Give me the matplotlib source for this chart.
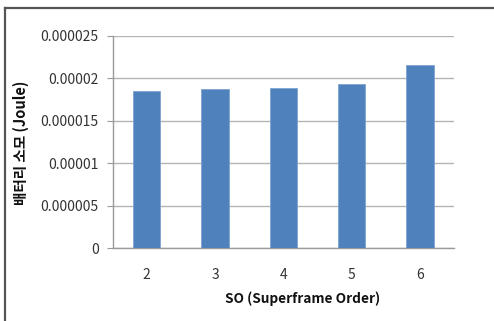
import matplotlib.pyplot as plt
import numpy as np
from matplotlib.lines import Line2D

plt.rcParams['font.family'] = ['Noto Sans CJK KR', 'DejaVu Sans']

so_order = ['2', '3', '4', '5', '6']
energy = [0.00001852, 0.00001872, 0.00001891, 0.00001931, 0.00002158]
y_ticks = [0, 0.000005, 0.00001, 0.000015, 0.00002, 0.000025]
y_tick_labels = ['0', '0.000005', '0.00001', '0.000015', '0.00002', '0.000025']

W, H = 494, 321
fig = plt.figure(figsize=(W / 100, H / 100), dpi=100)
ax = fig.add_axes([112.5 / W, 1 - 248.3 / H, (454 - 112.5) / W, (248.3 - 36) / H])

x = np.arange(len(so_order))
ax.bar(x, energy, width=0.4, color='#4F81BD', edgecolor='#7FA3D3', linewidth=0.6, zorder=3)

ax.set_xlim(-0.5, len(so_order) - 0.5)
ax.set_ylim(0, 0.000025)
ax.set_yticks(y_ticks)
ax.set_yticklabels(y_tick_labels)
ax.set_xticks(x)
ax.set_xticklabels(so_order)

ax.yaxis.grid(True, color='#b4b4b4', linewidth=1.0, zorder=0)
ax.set_axisbelow(True)
for s in ['top', 'right']:
    ax.spines[s].set_visible(False)
ax.spines['left'].set_color('#9a9a9a')
ax.spines['bottom'].set_color('#9a9a9a')
ax.spines['left'].set_linewidth(1.0)
ax.spines['bottom'].set_linewidth(1.0)
ax.tick_params(axis='y', length=4, color='#9a9a9a', labelsize=10, labelcolor='#333333', pad=6)
ax.tick_params(axis='x', length=0, labelsize=10, labelcolor='#333333', pad=14)

fig.text(303 / W, 1 - 299 / H, 'SO (Superframe Order)', ha='center', va='center',
         fontsize=9.8, fontweight='bold', color='#111111')
fig.text(21 / W, 1 - 143 / H, '배터리 소모 (Joule)', ha='center', va='center',
         rotation=90, fontsize=10.5, fontweight='bold', color='#111111')

# chart frame edges
fig.add_artist(Line2D([5 / W, 1], [1 - 8 / H, 1 - 8 / H], color='#555555', linewidth=1.6))
fig.add_artist(Line2D([5 / W, 5 / W], [0, 1 - 8 / H], color='#555555', linewidth=1.6))

fig.savefig('out.png', dpi=100)
